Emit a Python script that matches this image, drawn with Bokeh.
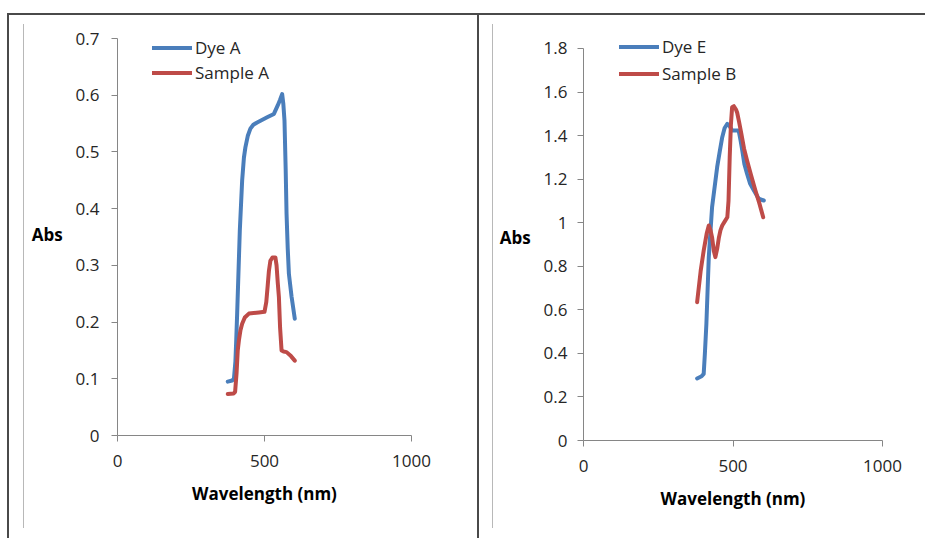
from bokeh.plotting import figure
from bokeh.layouts import row, column
from bokeh.models import Range1d, FixedTicker, Legend, LegendItem
from bokeh.embed import file_html
from bokeh.resources import INLINE

# ---------------- data ----------------
dye_a_wl = [375, 390, 396, 401, 404, 407, 416, 424, 430, 435, 443, 452, 462, 475, 509, 532,
            545, 553, 560, 564, 568, 572, 575, 579, 583, 592, 603]
dye_a_abs = [0.095, 0.097, 0.100, 0.130, 0.170, 0.215, 0.361, 0.450, 0.490, 0.508, 0.528, 0.541, 0.548,
             0.552, 0.561, 0.567, 0.582, 0.592, 0.602, 0.585, 0.555, 0.470, 0.391, 0.330, 0.285, 0.245, 0.206]

sample_a_wl = [375, 395, 400, 405, 409, 413, 418, 424, 433, 447, 481, 500, 506, 511, 515, 520,
               527, 537, 541, 545, 549, 553, 558, 565, 575, 590, 603]
sample_a_abs = [0.073, 0.074, 0.077, 0.110, 0.150, 0.168, 0.185, 0.197, 0.208, 0.215, 0.217, 0.218,
                0.235, 0.265, 0.290, 0.308, 0.314, 0.314, 0.300, 0.270, 0.244, 0.190, 0.150, 0.148,
                0.147, 0.140, 0.132]

dye_e_wl = [380, 395, 402, 406, 411, 419, 430, 447, 456, 464, 472, 481, 488, 497, 519, 525,
            531, 538, 547, 557, 570, 586, 603]
dye_e_abs = [0.285, 0.295, 0.306, 0.400, 0.536, 0.842, 1.071, 1.255, 1.330, 1.393, 1.435, 1.454,
             1.445, 1.423, 1.423, 1.380, 1.332, 1.270, 1.225, 1.180, 1.148, 1.110, 1.102]

sample_b_wl = [380, 392, 402, 412, 419, 425, 430, 436, 441, 447, 453, 458, 464, 472, 481, 485,
               489, 493, 497, 503, 510, 514, 520, 528, 537, 547, 560, 575, 588, 601]
sample_b_abs = [0.635, 0.780, 0.872, 0.950, 0.987, 0.965, 0.933, 0.870, 0.842, 0.880, 0.933, 0.965,
                0.987, 1.005, 1.025, 1.100, 1.301, 1.450, 1.530, 1.535, 1.520, 1.505, 1.465, 1.408,
                1.340, 1.286, 1.220, 1.148, 1.090, 1.025]

x_ticks = [0, 500, 1000]
x_tick_labels = ["0", "500", "1000"]
left_y_ticks = [0, 0.1, 0.2, 0.3, 0.4, 0.5, 0.6, 0.7]
left_y_labels = ["0", "0.1", "0.2", "0.3", "0.4", "0.5", "0.6", "0.7"]
right_y_ticks = [0, 0.2, 0.4, 0.6, 0.8, 1.0, 1.2, 1.4, 1.6, 1.8]
right_y_labels = ["0", "0.2", "0.4", "0.6", "0.8", "1", "1.2", "1.4", "1.6", "1.8"]

BLUE = "#4A7EBB"
RED = "#BE4B48"
AXIS = "#868686"
FONT = "Open Sans"
FS = "17px"


def make_panel(width, y_max, y_end, yticks, ylabels, borders, series, legend_xy, row_h,
               y_standoff, ylabel_baseline, decor_css):
    p = figure(width=width, height=538, output_backend="svg", toolbar_location=None,
               x_range=Range1d(0, 1000), y_range=Range1d(0, y_end),
               min_border=0, min_border_left=borders[0], min_border_right=borders[1],
               min_border_top=borders[2], min_border_bottom=borders[3])
    p.outline_line_color = None
    p.grid.visible = False
    p.background_fill_color = "white"
    p.border_fill_color = None
    p.styles = decor_css

    xa = p.xaxis[0]
    xa.ticker = FixedTicker(ticks=x_ticks)
    xa.major_label_overrides = dict(zip(x_ticks, x_tick_labels))
    ya = p.yaxis[0]
    ya.ticker = FixedTicker(ticks=yticks)
    ya.major_label_overrides = dict(zip(yticks, ylabels))
    ya.bounds = (0, y_max)
    for ax in (xa, ya):
        ax.axis_line_color = AXIS
        ax.major_tick_line_color = AXIS
        ax.minor_tick_line_color = None
        ax.major_tick_in = 0
        ax.major_tick_out = 6
        ax.major_label_text_font = FONT
        ax.major_label_text_font_size = FS
        ax.major_label_text_color = "#262626"
        ax.axis_label_text_font = FONT
        ax.axis_label_text_font_size = FS
        ax.axis_label_text_font_style = "bold"
        ax.axis_label_text_color = "black"
    xa.axis_label = "Wavelength (nm)"
    xa.major_label_standoff = 13
    xa.axis_label_standoff = 12
    ya.axis_label = "Abs"
    ya.axis_label_orientation = "horizontal"
    ya.axis_label_text_baseline = ylabel_baseline
    ya.major_label_standoff = y_standoff
    ya.axis_label_standoff = 10

    items = []
    for name, xs, ys, col in series:
        r = p.line(xs, ys, line_color=col, line_width=4, line_join="round", line_cap="round")
        items.append(LegendItem(label=name, renderers=[r]))
    leg = Legend(items=items, location=legend_xy, glyph_width=40, glyph_height=row_h,
                 label_height=row_h, label_standoff=3, spacing=0, padding=0, margin=0,
                 border_line_color=None, background_fill_alpha=0,
                 label_text_font=FONT, label_text_font_size=FS, label_text_color="#262626")
    p.add_layout(leg)
    return p


def css_lines(lines):
    # lines: list of (x, y, w, h, color) in the panel's own pixels
    return {
        "background-color": "white",
        "background-image": ", ".join(f"linear-gradient({c}, {c})" for (_, _, _, _, c) in lines),
        "background-position": ", ".join(f"{x}px {y}px" for (x, y, _, _, _) in lines),
        "background-size": ", ".join(f"{w}px {h}px" for (_, _, w, h, _) in lines),
        "background-repeat": "no-repeat",
    }


DARK = "#4a4a4a"
LIGHT = "#b8b8b8"

p1 = make_panel(477, 0.7, 0.7 + 5 / 567, left_y_ticks, left_y_labels, (117, 66, 33, 103),
                [("Dye A", dye_a_wl, dye_a_abs, BLUE), ("Sample A", sample_a_wl, sample_a_abs, RED)],
                (35, 350), 25, 12, "middle",
                css_lines([(8, 13, 469, 2, DARK), (7, 13, 2, 525, DARK), (23, 24, 1, 504, LIGHT)]))

p2 = make_panel(448, 1.8, 1.8 + 15 / 217.8, right_y_ticks, right_y_labels, (106, 43, 33, 98),
                [("Dye E", dye_e_wl, dye_e_abs, BLUE), ("Sample B", sample_b_wl, sample_b_abs, RED)],
                (36, 353), 27, 10, "top",
                css_lines([(0, 13, 448, 2, DARK), (0, 13, 2, 525, DARK), (15, 24, 1, 504, LIGHT)]))

layout = row(column(p1), column(p2), spacing=0)
open("out.html", "w").write(file_html(layout, INLINE))
